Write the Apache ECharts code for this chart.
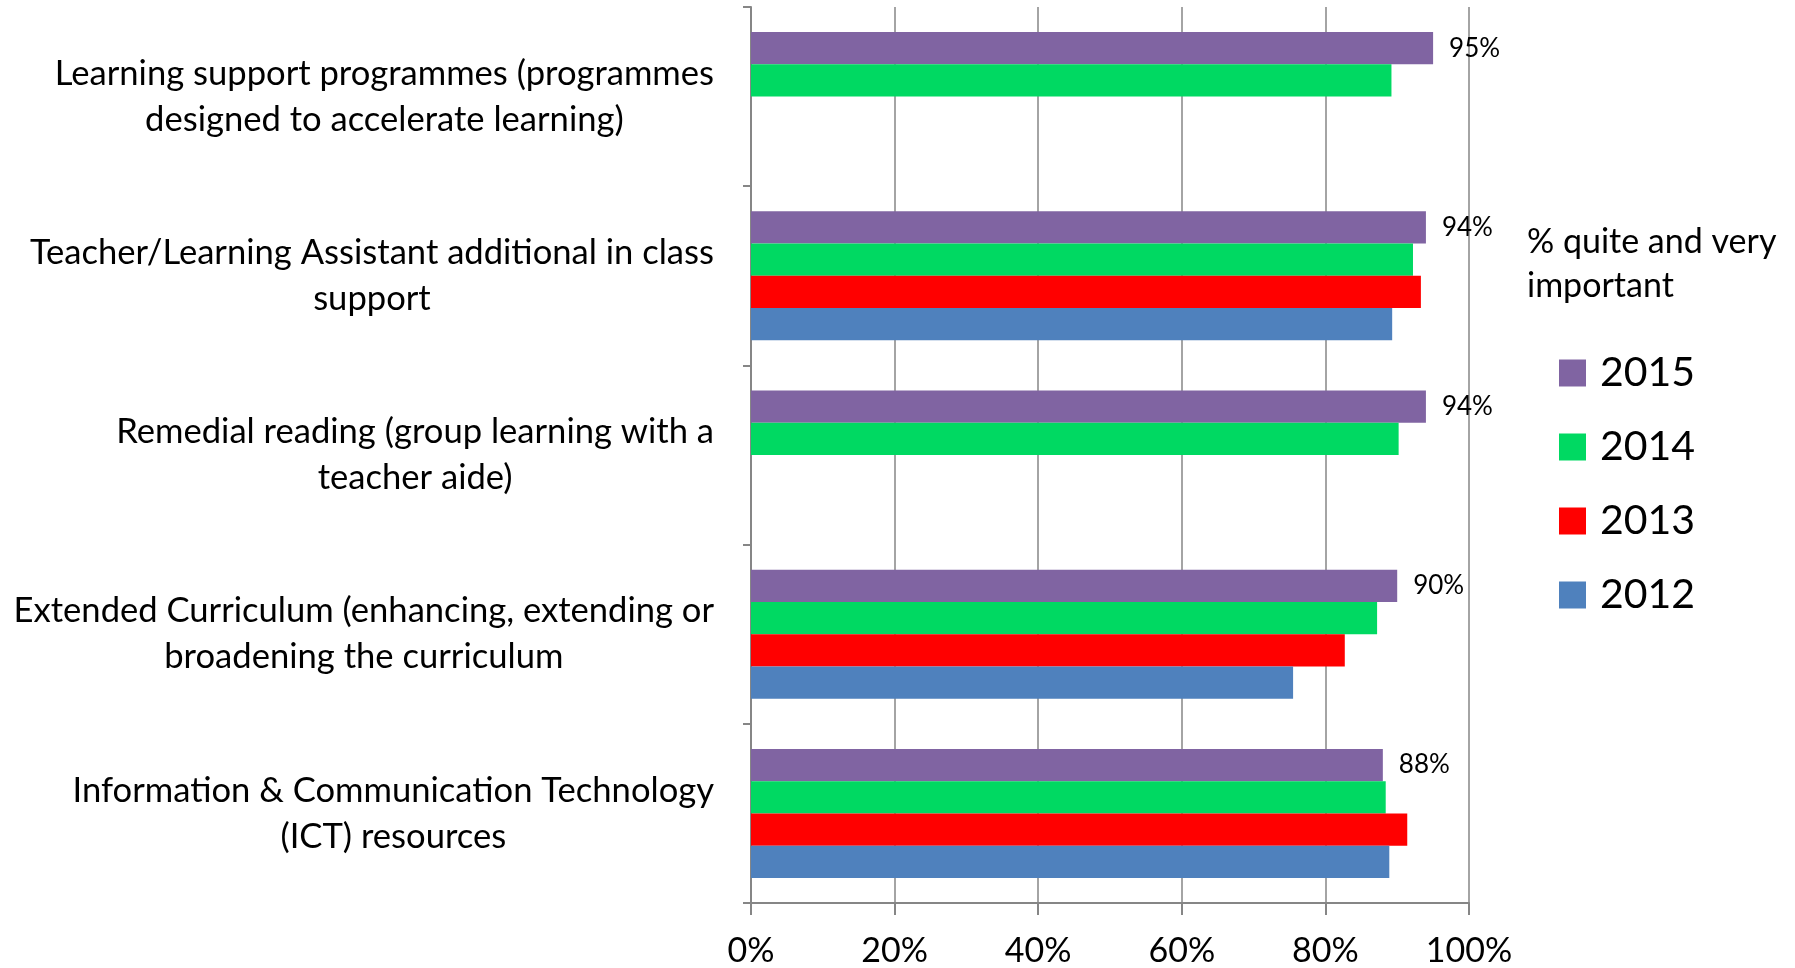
<!DOCTYPE html>
<html>
<head>
<meta charset="utf-8">
<script src="https://cdn.jsdelivr.net/npm/echarts@6/dist/echarts.min.js"></script>
<style>html,body{margin:0;padding:0;background:#fff}#c{width:1795px;height:968px}</style>
</head>
<body>
<div id="c"></div>
<script>
const categories = [
  "Learning support programmes (programmes\ndesigned to accelerate learning)",
  "Teacher/Learning Assistant additional in class\nsupport",
  "Remedial reading (group learning with a\nteacher aide)",
  "Extended Curriculum (enhancing, extending or\nbroadening the curriculum",
  "Information & Communication Technology\n(ICT) resources"
];
const years = ["2015", "2014", "2013", "2012"];
const v2015 = [95, 94, 94, 90, 88];
const v2014 = [89.2, 92.2, 90.2, 87.2, 88.4];
const v2013 = [null, 93.3, null, 82.7, 91.4];
const v2012 = [null, 89.3, null, 75.5, 88.9];
const xTicks = { min: 0, max: 100, interval: 20 };
const legendTitle = "% quite and very\nimportant";

const colors = ["#8064A2", "#00D962", "#FF0000", "#4F81BD"];
const values = [v2015, v2014, v2013, v2012];
const FONT = "Lato";

const chart = echarts.init(document.getElementById('c'), null, {renderer: 'canvas'});
const series = years.map((y, i) => ({
  name: y,
  type: 'bar',
  data: values[i].map(v => v === null ? '-' : v),
  itemStyle: { color: colors[i] },
  barGap: '0%',
  barCategoryGap: '28%',
  label: i === 0 ? {
    show: true, position: 'right', distance: 16,
    formatter: p => Math.round(p.value) + '%',
    fontFamily: FONT, fontSize: 26, color: '#000', padding: [4, 0, 0, 0]
  } : { show: false },
  emphasis: { disabled: true }
}));

chart.setOption({
  animation: false,
  color: colors,
  title: {
    text: legendTitle,
    left: 1522, top: 215,
    textStyle: { fontFamily: FONT, fontSize: 34, fontWeight: 'normal', color: '#000', lineHeight: 44 }
  },
  legend: {
    orient: 'vertical',
    left: 1554, top: 346,
    itemWidth: 27, itemHeight: 27,
    itemGap: 30,
    icon: 'rect',
    data: years,
    textStyle: { fontFamily: FONT, fontSize: 41, color: '#000', lineHeight: 44, padding: [0, 0, 0, 9] }
  },
  grid: { left: 751, right: 326, top: 7, bottom: 63, containLabel: false },
  xAxis: {
    type: 'value',
    min: xTicks.min, max: xTicks.max, interval: xTicks.interval,
    axisLine: { show: true, lineStyle: { color: '#868686', width: 2 } },
    axisTick: { show: true, length: 12, lineStyle: { color: '#868686', width: 2 } },
    splitLine: { show: true, lineStyle: { color: '#868686', width: 1.5 } },
    axisLabel: { formatter: '{value}%', fontFamily: FONT, fontSize: 34, color: '#000', margin: 31 }
  },
  yAxis: {
    type: 'category',
    inverse: true,
    data: categories,
    axisLine: { show: true, lineStyle: { color: '#868686', width: 2 } },
    axisTick: { show: true, length: 8, lineStyle: { color: '#868686', width: 2 } },
    axisLabel: {
      margin: 37,
      align: 'right',
      formatter: v => v.split('\n').map(l => '{c|' + l + '}').join('\n'),
      rich: { c: { align: 'center', fontFamily: FONT, fontSize: 34.6, lineHeight: 46, color: '#000' } }
    }
  },
  series: series
});
</script>
</body>
</html>
